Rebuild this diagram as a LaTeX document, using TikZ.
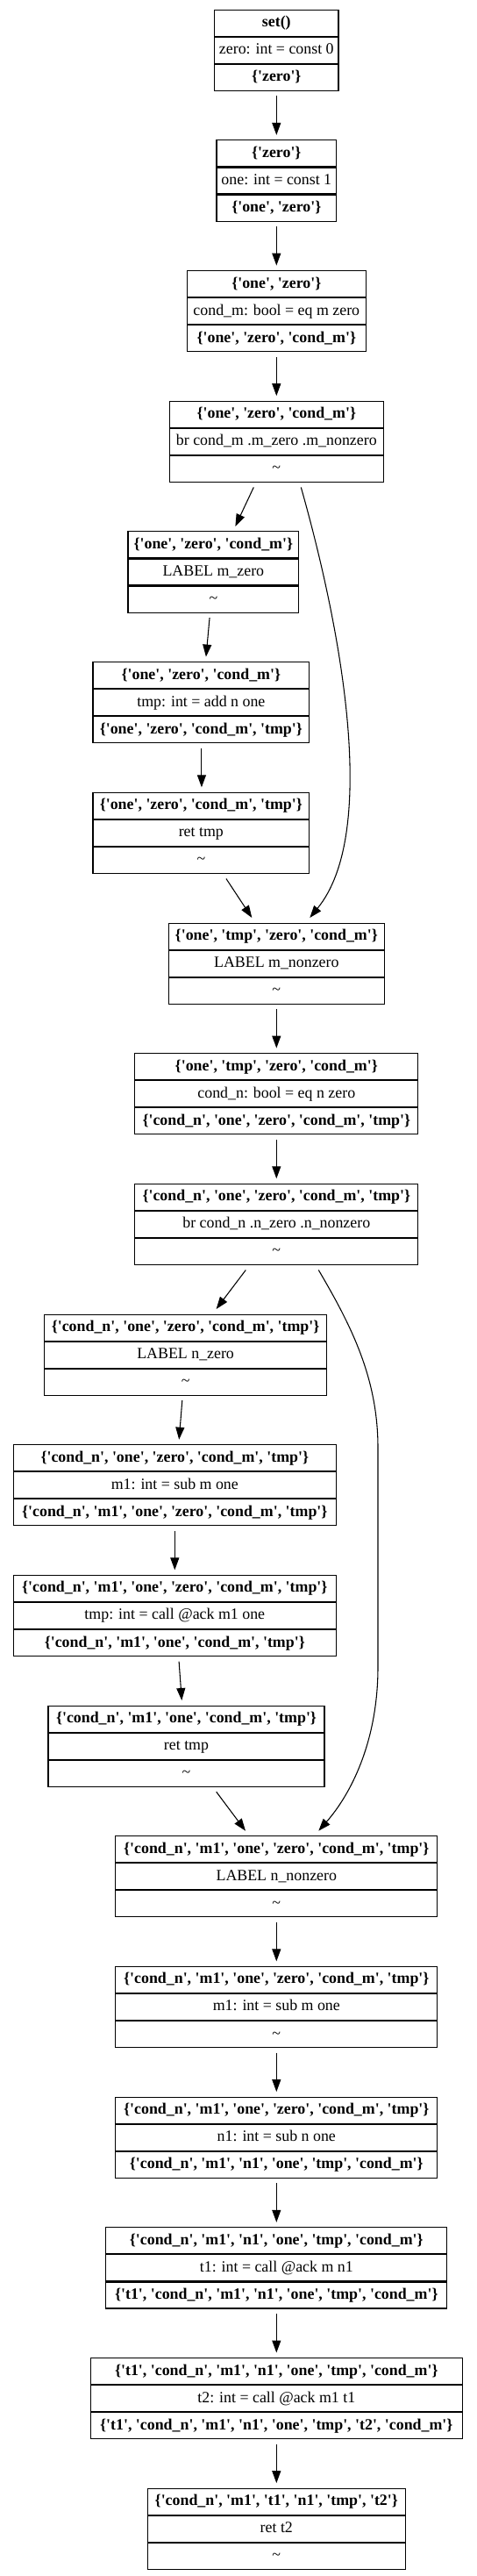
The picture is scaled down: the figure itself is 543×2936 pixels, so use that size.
\documentclass[tikz,border=0pt]{standalone}
\usepackage{fontspec}
\setmainfont{Liberation Serif}[Ligatures=TeXOff]
\usetikzlibrary{arrows.meta,calc}
\tikzset{
  cell/.style={draw, line width=0.8pt, inner sep=0pt, minimum height=22.5pt,
    text height=9.6pt, text depth=2.9pt, anchor=north, font=\fontsize{13.4}{16}\selectfont},
  arr/.style={line width=0.8pt, -{Triangle[length=10.5pt,width=7.5pt]}},
}
\newcommand\blk[7]{%
  \node[cell, minimum width={#4*0.75pt}] (#1a) at (#2,#3) {\bfseries #5};
  \node[cell, minimum width={#4*0.75pt}] (#1b) at (#1a.south) {#6};
  \node[cell, minimum width={#4*0.75pt}] (#1c) at (#1b.south) {#7};}
\newcommand\edge[4]{\draw[arr] ($(#1c.south)+(#2,5.5)$) -- ($(#3a.north)+(#4,-5.5)$);}
\newcommand\tl{\textasciitilde}
\begin{document}
\begin{tikzpicture}[x=0.75pt,y=-0.75pt]
\useasboundingbox (0,0) rectangle (543,2936);
\blk{n0}{315.3}{10.7}{141.4}{set()}{zero: int = const 0}{\bfseries \{'zero'\}}
\blk{n1}{315.3}{159.4}{136.6}{\{'zero'\}}{one: int = const 1}{\bfseries \{'one', 'zero'\}}
\blk{n2}{315.3}{308.1}{204}{\{'one', 'zero'\}}{cond\_m: bool = eq m zero}{\bfseries \{'one', 'zero', 'cond\_m'\}}
\blk{n3}{315.3}{456.7}{244.4}{\{'one', 'zero', 'cond\_m'\}}{br cond\_m .m\_zero .m\_nonzero}{\tl}
\blk{n4}{243.35}{605.4}{194.7}{\{'one', 'zero', 'cond\_m'\}}{LABEL m\_zero}{\tl}
\blk{n5}{229.35}{754.1}{246.7}{\{'one', 'zero', 'cond\_m'\}}{tmp: int = add n one}{\bfseries \{'one', 'zero', 'cond\_m', 'tmp'\}}
\blk{n6}{229.35}{902.8}{246.7}{\{'one', 'zero', 'cond\_m', 'tmp'\}}{ret tmp}{\tl}
\blk{n7}{315.3}{1051.5}{246.3}{\{'one', 'tmp', 'zero', 'cond\_m'\}}{LABEL m\_nonzero}{\tl}
\blk{n8}{315.3}{1200.1}{322.7}{\{'one', 'tmp', 'zero', 'cond\_m'\}}{cond\_n: bool = eq n zero}{\bfseries \{'cond\_n', 'one', 'zero', 'cond\_m', 'tmp'\}}
\blk{n9}{315.3}{1348.8}{322.7}{\{'cond\_n', 'one', 'zero', 'cond\_m', 'tmp'\}}{br cond\_n .n\_zero .n\_nonzero}{\tl}
\blk{n10}{211.6}{1497.5}{322.7}{\{'cond\_n', 'one', 'zero', 'cond\_m', 'tmp'\}}{LABEL n\_zero}{\tl}
\blk{n11}{199.3}{1646.2}{368}{\{'cond\_n', 'one', 'zero', 'cond\_m', 'tmp'\}}{m1: int = sub m one}{\bfseries \{'cond\_n', 'm1', 'one', 'zero', 'cond\_m', 'tmp'\}}
\blk{n12}{199.3}{1794.9}{368}{\{'cond\_n', 'm1', 'one', 'zero', 'cond\_m', 'tmp'\}}{tmp: int = call @ack m1 one}{\bfseries \{'cond\_n', 'm1', 'one', 'cond\_m', 'tmp'\}}
\blk{n13}{212.5}{1943.5}{315}{\{'cond\_n', 'm1', 'one', 'cond\_m', 'tmp'\}}{ret tmp}{\tl}
\blk{n14}{315.3}{2092.2}{367.3}{\{'cond\_n', 'm1', 'one', 'zero', 'cond\_m', 'tmp'\}}{LABEL n\_nonzero}{\tl}
\blk{n15}{315.3}{2240.9}{367.3}{\{'cond\_n', 'm1', 'one', 'zero', 'cond\_m', 'tmp'\}}{m1: int = sub m one}{\tl}
\blk{n16}{315.3}{2389.6}{367.3}{\{'cond\_n', 'm1', 'one', 'zero', 'cond\_m', 'tmp'\}}{n1: int = sub n one}{\bfseries \{'cond\_n', 'm1', 'n1', 'one', 'tmp', 'cond\_m'\}}
\blk{n17}{315.3}{2538.3}{389}{\{'cond\_n', 'm1', 'n1', 'one', 'tmp', 'cond\_m'\}}{t1: int = call @ack m n1}{\bfseries \{'t1', 'cond\_n', 'm1', 'n1', 'one', 'tmp', 'cond\_m'\}}
\blk{n18}{315.3}{2687.0}{424.4}{\{'t1', 'cond\_n', 'm1', 'n1', 'one', 'tmp', 'cond\_m'\}}{t2: int = call @ack m1 t1}{\bfseries \{'t1', 'cond\_n', 'm1', 'n1', 'one', 'tmp', 't2', 'cond\_m'\}}
\blk{n19}{315.3}{2835.6}{294}{\{'cond\_n', 'm1', 't1', 'n1', 'tmp', 't2'\}}{ret t2}{\tl}
% straight edges
\edge{n0}{0}{n1}{0}
\edge{n1}{0}{n2}{0}
\edge{n2}{0}{n3}{0}
\edge{n3}{-26}{n4}{25}
\edge{n4}{-4.3}{n5}{5.6}
\edge{n5}{0.6}{n6}{0.6}
\edge{n6}{28.6}{n7}{-28}
\edge{n7}{0}{n8}{0}
\edge{n8}{0}{n9}{0}
\edge{n9}{-35}{n10}{35}
\edge{n10}{-3.8}{n11}{4.9}
\edge{n11}{0}{n12}{0}
\edge{n12}{4.8}{n13}{-5.2}
\edge{n13}{34.2}{n14}{-35.3}
\edge{n14}{0}{n15}{0}
\edge{n15}{0}{n16}{0}
\edge{n16}{0}{n17}{0}
\edge{n17}{0}{n18}{0}
\edge{n18}{0}{n19}{0}
% curved edges
\draw[arr] ($(n3c.south)+(28,5.5)$) .. controls (390,720) and (432,950) .. ($(n7a.north)+(38,-5.5)$);
\draw[arr] ($(n9c.south)+(48,5.5)$) .. controls (400,1510) and (431,1570) .. (431,1650)
  -- (431,1900) .. controls (431,1985) and (400,2045) .. ($(n14a.north)+(48,-5.5)$);
\end{tikzpicture}
\end{document}
